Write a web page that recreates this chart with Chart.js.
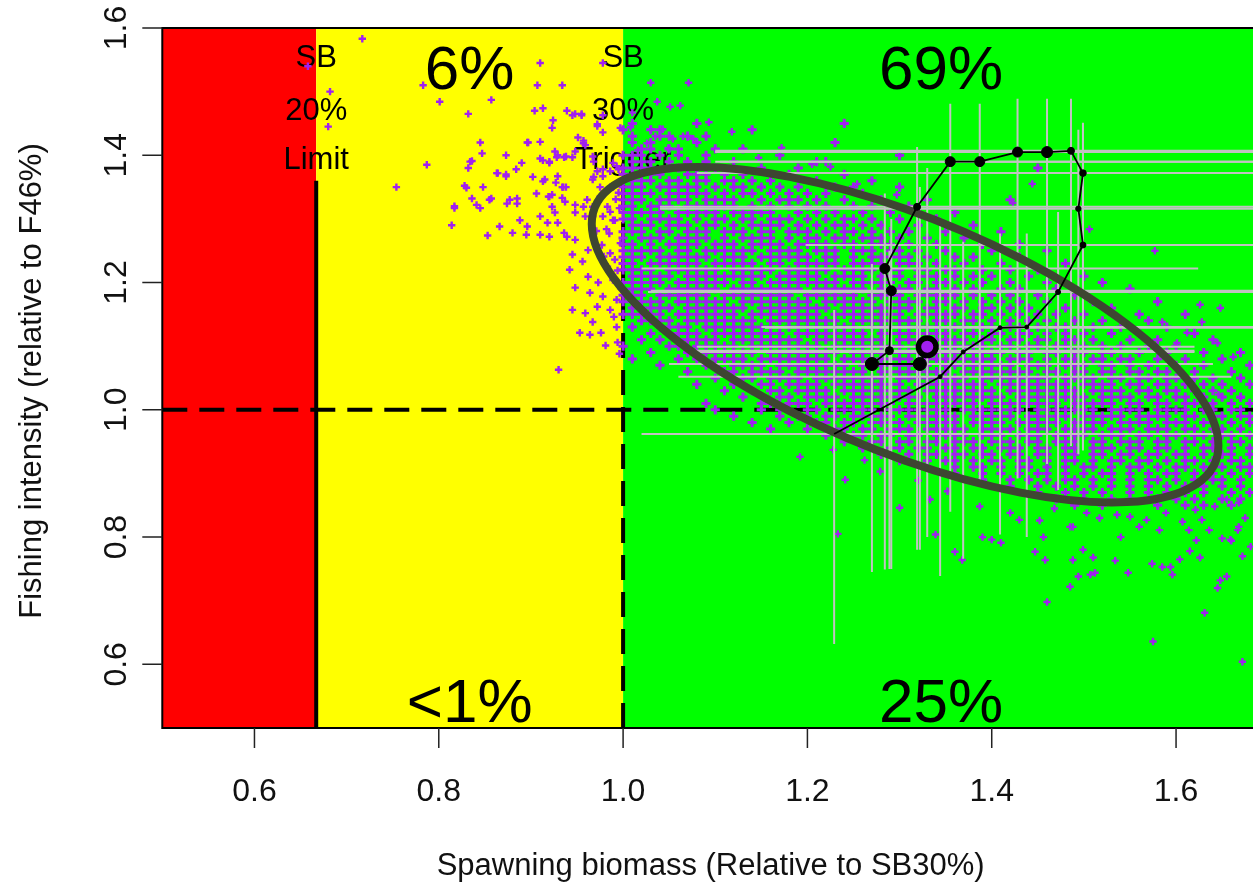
<!DOCTYPE html>
<html>
<head>
<meta charset="utf-8">
<script src="https://cdn.jsdelivr.net/npm/chart.js@4.4.1/dist/chart.umd.min.js"></script>
<style>
  html, body { margin: 0; padding: 0; background: #fff; overflow: hidden; width: 1253px; height: 886px; }
  canvas { display: block; }
</style>
</head>
<body>
<canvas id="kobe" width="1259" height="886"></canvas>
<script>
// ---- axes ----
const xTicks = [0.6, 0.8, 1.0, 1.2, 1.4, 1.6];
const xTickLabels = ['0.6', '0.8', '1.0', '1.2', '1.4', '1.6'];
const yTicks = [0.6, 0.8, 1.0, 1.2, 1.4, 1.6];
const yTickLabels = ['0.6', '0.8', '1.0', '1.2', '1.4', '1.6'];
const xTitle = 'Spawning biomass (Relative to SB30%)';
const yTitle = 'Fishing intensity (relative to F46%)';

// ---- stock-status zones (SB/SB30%) ----
const zoneBreaks = [0.5, 0.667, 1.0, 1.69];
const zoneColours = ['#ff0000', '#ffff00', '#00ff00'];
const refLimit = 0.667;     // SB20% expressed relative to SB30%
const refTrigger = 1.0;     // SB30%
const refF = 1.0;           // F46%
const refTop = 1.36;        // vertical reference lines stop here
const limitLabel = ['SB', '20%', 'Limit'];
const triggerLabel = ['SB', '30%', 'Trigger'];
// probability of ending in each quadrant: [yellow-top, green-top, yellow-bottom, green-bottom]
const quadrantPct = ['6%', '69%', '<1%', '25%'];

// ---- stock trajectory (time ordered) ----
const trajSB = [1.229, 1.344, 1.369, 1.409, 1.438, 1.472, 1.499, 1.494, 1.499, 1.486, 1.460, 1.428, 1.387, 1.355, 1.319, 1.284, 1.291, 1.289, 1.270, 1.322, 1.330];
const trajF  = [0.962, 1.052, 1.091, 1.129, 1.130, 1.185, 1.259, 1.316, 1.372, 1.407, 1.405, 1.405, 1.390, 1.390, 1.319, 1.222, 1.187, 1.093, 1.072, 1.072, 1.099];
// uncertainty ranges of each trajectory point
const barSBLo = [1.02, 1.06, 1.07, 1.154, 1.15, 1.027, 1.198, 1.04, 1.08, 1.10, 1.10, 1.10, 1.105, 1.10, 1.04, 1.02, 1.03, 1.07, 1.05, 1.05, 1.08];
const barSBHi = [1.75, 1.66, 1.62, 1.75, 1.72, 1.75, 1.75, 1.75, 1.75, 1.75, 1.75, 1.75, 1.75, 1.75, 1.75, 1.624, 1.69, 1.62, 1.637, 1.64, 1.62];
const barFLo  = [0.632, 0.739, 0.766, 0.804, 0.800, 0.874, 0.936, 0.93, 0.94, 0.943, 0.915, 0.892, 0.882, 0.84, 0.78, 0.749, 0.75, 0.75, 0.745, 0.78, 0.80];
const barFHi  = [1.157, 1.30, 1.264, 1.277, 1.277, 1.311, 1.451, 1.44, 1.45, 1.489, 1.489, 1.489, 1.481, 1.481, 1.413, 1.34, 1.30, 1.25, 1.229, 1.35, 1.38];
// marker size of each trajectory point
const trajRadius = [0, 2, 2, 2, 2, 2.5, 3, 2.7, 3.3, 3.5, 5.5, 5, 5, 5, 3.5, 5, 5, 4, 6.5, 6.5, 8.8];

// ---- confidence ellipse of the terminal state (centre, two conjugate semi-axes) ----
const ellipseCentre = [1.306, 1.118];
const ellipseAxisA = [0.340, -0.174];
const ellipseAxisB = [0.0, 0.198];

// ---- projected states, scattered part: [SB/SB30% x1000, F/F46% x1000] ----
const cloudSparse = [
  [717,1583],[658,1540],[682,1500],[680,1445],[783,1510],[801,1484],[832,1465],[857,1487],[845,1420],[910,1545],
  [907,1510],[934,1510],[904,1470],[913,1474],[924,1455],[923,1443],[939,1470],[948,1465],[955,1465],[972,1446],
  [978,1545],[978,1463],[997,1443],[897,1420],[910,1421],[873,1400],[890,1388],[834,1390],[787,1385],[754,1350],
  [873,1370],[863,1372],[913,1392],[920,1388],[928,1397],[936,1397],[945,1397],[957,1423],[959,1416],[968,1390],
  [978,1378],[989,1388],[995,1378],[902,1366],[915,1362],[927,1357],[934,1350],[968,1366],[975,1350],[983,1346],
  [989,1350],[830,1349],[848,1350],[855,1330],[877,1330],[885,1324],[906,1340],[923,1338],[934,1333],[817,1320],
  [841,1322],[847,1403],[836,1391],[832,1380],[828,1352],[817,1317],[814,1290],[836,1332],[857,1332],[845,1317],
  [853,1274],[864,1372],[873,1367],[884,1378],[874,1324],[885,1332],[896,1288],[910,1304],[920,1335],[913,1359],
  [929,1367],[938,1350],[910,1395],[920,1390],[929,1400],[938,1398],[926,1406],[896,1420],[919,1335],[923,1319],
  [926,1310],[918,1294],[929,1294],[936,1278],[910,1275],[920,1272],[895,1275],[948,1310],[957,1319],[961,1330],
  [959,1304],[967,1319],[978,1304],[983,1319],[989,1298],[967,1362],[972,1375],[978,1367],[986,1375],[993,1383],
  [986,1350],[995,1341],[975,1335],[951,1428],[957,1419],[945,1463],[955,1463],[972,1449],[978,1436],[948,1406],
  [967,1398],[866,1288],[880,1278],[888,1298],[935,1350],[937,1327],[948,1322],[967,1304],[986,1311],[991,1298],
  [939,1272],[948,1267],[945,1244],[962,1251],[977,1259],[986,1246],[991,1236],[983,1225],[942,1220],[962,1209],
  [973,1200],[989,1204],[948,1192],[964,1184],[978,1178],[993,1173],[972,1162],[959,1152],[986,1157],[945,1157],
  [967,1138],[993,1130],[953,1121],[964,1118],[930,1063],[981,1101],[996,1088],[956,1233],[971,1281],[997,1262],
  [982,1284],[994,1219],[979,1241],[998,1190],[990,1146],[976,1121],[994,1106],[985,1277],[996,1317],[992,1331],
  [1030,1514],[1071,1514],[1037,1484],[1051,1476],[1062,1478],[1008,1444],[1030,1441],[1043,1441],[1035,1430],[1054,1426],
  [1065,1430],[1076,1426],[1016,1408],[1026,1419],[1049,1411],[1010,1467],[1093,1452],[1118,1437],[1230,1420],[1205,1386],
  [1225,1382],[1254,1355],[1297,1338],[1300,1400],[1444,1355],[1423,1325],[1506,1284],[1577,1250],[1626,1165],[1648,1160],
  [1628,1138],[1585,1138],[1601,1105],[1645,1105],[1646,1024],[1670,1019],[1172,1412],[1147,1396],[1612,1121],[1662,1083],
  [1192,926],[1233,805],[1241,890],[1279,903],[1300,846],[1333,859],[1339,804],[1360,777],[1368,764],[1387,848],
  [1390,800],[1400,796],[1410,791],[1420,838],[1430,827],[1447,777],[1456,800],[1458,764],[1460,698],[1485,722],
  [1488,764],[1494,738],[1499,780],[1512,744],[1488,816],[1507,741],[1510,768],[1534,763],[1548,744],[1574,758],
  [1585,753],[1594,753],[1596,741],[1604,765],[1615,778],[1626,768],[1645,720],[1648,732],[1655,738],[1631,681],
  [1575,636],[1672,604],[1672,770],[1681,785],[1659,796],[1667,811],[1485,816],[1503,838],[1517,830],[1536,835],
  [1550,832],[1560,816],[1568,827],[1582,811],[1589,838],[1607,824],[1614,811],[1628,827],[1636,811],[1650,798],
  [1660,794],[1668,816],[1675,830],[1655,859],[1668,854],[1642,848],[1621,843],[1468,845],[1452,826],[1540,800],
  [1622,795],[1320,889],[1352,872],[1262,921],[1228,937]
];

// ---- projected states, dense core: rows of [F/F46% x100, [SB/SB30% x100, ...]] ----
const coreUpper = [
  [145, [101, 108, 124]], [144, [100, 103, 104, 114]], [143, [101, 104, 105, 107, 109]],
  [142, [101, 103, 108, 123]], [141, [102, 103, 105, 106, 110, 113]],
  [140, [100, 101, 102, 104, 106, 109, 117, 130]],
  [139, [101, 102, 103, 105, 107, 109, 112, 121, 122]],
  [138, [100, 101, 102, 103, 105, 106, 108, 110, 112, 115, 119, 145]],
  [137, [100, 101, 102, 103, 104, 107, 108, 109, 111, 113, 118, 124]],
  [136, [100, 101, 102, 103, 105, 106, 108, 109, 111, 112, 114, 116, 121, 127]],
  [135, [100, 101, 102, 104, 105, 106, 107, 108, 110, 112, 113, 115, 117, 119, 123, 125, 130]],
  [134, [100, 101, 102, 103, 105, 106, 107, 108, 109, 111, 113, 114, 116, 118, 120, 122, 126]],
  [133, [100, 101, 102, 104, 105, 106, 107, 109, 110, 111, 112, 115, 117, 118, 119, 121, 124, 128, 133, 142]],
  [132, [100, 101, 103, 104, 105, 107, 108, 109, 110, 111, 112, 114, 116, 118, 120, 122, 125, 127, 131]],
  [131, [100, 101, 102, 103, 104, 106, 107, 108, 109, 110, 112, 113, 114, 115, 116, 119, 121, 123, 126, 129, 136]]
];
const coreMiddle = [
  [130, [100, 101, 103, 104, 105, 106, 108, 110, 111, 113, 114, 116, 117, 118, 120, 122, 124, 125, 127, 130, 134]],
  [129, [101, 102, 103, 105, 106, 107, 109, 110, 112, 114, 115, 116, 117, 119, 121, 123, 124, 126, 128, 132, 138]],
  [128, [100, 101, 102, 104, 105, 107, 108, 109, 111, 112, 113, 115, 116, 118, 119, 120, 122, 124, 125, 127, 129, 131, 135, 141]],
  [127, [100, 102, 103, 104, 106, 107, 108, 109, 111, 113, 114, 115, 116, 118, 120, 121, 123, 124, 126, 127, 128, 130, 133, 137]],
  [126, [100, 101, 103, 105, 106, 107, 108, 110, 111, 112, 114, 115, 116, 117, 119, 120, 121, 122, 124, 125, 127, 128, 129, 131, 134, 139, 143]],
  [125, [100, 101, 102, 103, 104, 106, 107, 109, 110, 111, 112, 113, 114, 116, 117, 118, 119, 121, 122, 123, 125, 126, 127, 129, 130, 132, 135, 140, 146]],
  [124, [100, 101, 102, 104, 105, 106, 107, 108, 109, 111, 112, 113, 115, 116, 117, 118, 119, 120, 122, 123, 125, 127, 128, 129, 130, 131, 133, 136, 138, 143]],
  [123, [100, 101, 103, 104, 105, 106, 107, 108, 110, 111, 112, 113, 114, 116, 117, 119, 120, 121, 122, 123, 125, 126, 127, 128, 130, 131, 132, 134, 137, 141, 148]],
  [122, [100, 101, 102, 103, 105, 106, 107, 108, 109, 110, 112, 113, 114, 115, 116, 118, 119, 120, 121, 122, 124, 125, 126, 127, 129, 130, 132, 133, 135, 136, 139, 142, 145]],
  [121, [101, 102, 103, 104, 105, 107, 108, 109, 110, 111, 112, 113, 114, 115, 117, 118, 119, 120, 121, 123, 124, 125, 126, 128, 129, 130, 132, 133, 134, 136, 138, 140, 144, 150]],
  [120, [100, 101, 102, 103, 104, 106, 107, 108, 109, 110, 111, 113, 114, 116, 117, 118, 119, 120, 121, 122, 123, 125, 126, 127, 128, 129, 131, 132, 134, 135, 137, 139, 142, 146, 152]],
  [119, [100, 101, 102, 103, 105, 106, 107, 108, 109, 110, 112, 113, 114, 115, 116, 117, 118, 119, 121, 122, 123, 124, 125, 126, 128, 129, 130, 131, 133, 134, 136, 138, 141, 143, 147, 155]],
  [118, [100, 101, 102, 104, 105, 106, 107, 108, 109, 111, 112, 113, 114, 115, 116, 117, 118, 120, 121, 122, 123, 124, 125, 127, 128, 129, 130, 132, 133, 134, 135, 136, 138, 140, 142, 145, 149]],
  [117, [100, 101, 102, 103, 104, 106, 107, 108, 109, 110, 111, 113, 114, 115, 116, 117, 118, 119, 120, 122, 123, 124, 125, 126, 127, 129, 130, 131, 132, 134, 135, 137, 139, 141, 143, 146, 151, 158]],
  [116, [101, 102, 103, 104, 105, 107, 108, 109, 110, 111, 112, 113, 115, 116, 117, 118, 119, 120, 121, 122, 124, 125, 126, 127, 128, 129, 130, 131, 133, 134, 136, 137, 139, 140, 142, 144, 148, 153]],
  [115, [100, 101, 102, 103, 104, 106, 107, 108, 109, 110, 111, 112, 114, 115, 116, 117, 118, 119, 120, 121, 123, 124, 125, 126, 127, 128, 129, 130, 132, 133, 134, 135, 136, 138, 139, 141, 143, 145, 147, 150, 156, 161]],
  [114, [102, 103, 104, 105, 107, 108, 109, 110, 111, 112, 113, 114, 116, 117, 118, 119, 120, 121, 122, 123, 125, 126, 127, 128, 129, 130, 131, 132, 134, 135, 137, 138, 140, 142, 144, 146, 149, 152, 157]],
  [113, [101, 104, 105, 106, 107, 109, 110, 111, 112, 113, 114, 115, 116, 118, 119, 120, 121, 122, 123, 124, 125, 127, 128, 129, 130, 131, 132, 133, 134, 136, 137, 139, 140, 142, 143, 145, 147, 148, 151, 154, 159]],
  [112, [103, 105, 106, 107, 108, 110, 111, 112, 113, 114, 115, 116, 117, 119, 120, 121, 122, 123, 124, 125, 126, 128, 129, 130, 131, 132, 133, 134, 135, 137, 138, 140, 141, 143, 144, 146, 148, 150, 153, 156, 162]],
  [111, [102, 104, 106, 107, 108, 109, 110, 112, 113, 114, 115, 116, 117, 118, 119, 121, 122, 123, 124, 125, 126, 127, 128, 130, 131, 132, 133, 134, 135, 136, 137, 139, 140, 142, 143, 145, 146, 148, 149, 151, 155, 158, 164]],
  [110, [100, 105, 106, 108, 109, 110, 111, 112, 114, 115, 116, 117, 118, 119, 120, 121, 123, 124, 125, 126, 127, 128, 129, 130, 132, 133, 134, 135, 136, 137, 138, 139, 141, 142, 144, 145, 147, 148, 150, 152, 154, 157, 160]],
  [109, [103, 107, 109, 110, 111, 112, 113, 114, 116, 117, 118, 119, 120, 121, 122, 123, 125, 126, 127, 128, 129, 130, 131, 132, 134, 135, 136, 137, 138, 139, 140, 141, 143, 144, 146, 147, 149, 150, 152, 153, 156, 159, 163, 167]],
  [108, [101, 106, 108, 110, 111, 112, 113, 115, 116, 117, 118, 119, 120, 121, 122, 124, 125, 126, 127, 128, 129, 130, 131, 133, 134, 135, 136, 137, 138, 139, 140, 142, 143, 144, 146, 148, 149, 151, 152, 154, 155, 158, 161, 165]],
  [107, [104, 109, 110, 112, 113, 114, 115, 117, 118, 119, 120, 121, 122, 123, 124, 126, 127, 128, 129, 130, 131, 132, 133, 135, 136, 137, 138, 139, 140, 141, 142, 144, 145, 146, 148, 149, 150, 152, 153, 155, 157, 160, 163, 168]],
  [106, [107, 111, 112, 114, 115, 116, 117, 119, 120, 121, 122, 123, 124, 125, 126, 128, 129, 130, 131, 132, 133, 134, 135, 137, 138, 139, 140, 141, 142, 143, 144, 146, 147, 149, 150, 152, 153, 155, 156, 158, 159, 162, 166]],
  [105, [110, 113, 114, 116, 117, 118, 119, 121, 122, 123, 124, 125, 126, 127, 128, 130, 131, 132, 133, 134, 135, 136, 137, 139, 140, 141, 142, 143, 144, 145, 146, 148, 149, 150, 151, 153, 154, 156, 157, 159, 160, 162, 164, 167]],
  [104, [108, 112, 115, 116, 118, 119, 120, 121, 123, 124, 125, 126, 127, 128, 129, 130, 132, 133, 134, 135, 136, 137, 138, 139, 141, 142, 143, 144, 145, 146, 147, 148, 150, 151, 152, 153, 155, 156, 158, 159, 161, 163, 165, 168]],
  [103, [111, 114, 116, 117, 119, 120, 121, 122, 124, 125, 126, 127, 128, 129, 130, 131, 133, 134, 135, 136, 137, 138, 139, 140, 142, 143, 144, 145, 146, 147, 148, 149, 151, 152, 153, 154, 156, 157, 159, 160, 162, 164, 166, 169]],
  [102, [113, 117, 118, 120, 121, 122, 123, 125, 126, 127, 128, 129, 130, 131, 132, 134, 135, 136, 137, 138, 139, 140, 141, 143, 144, 145, 146, 147, 148, 149, 150, 152, 153, 154, 155, 157, 158, 160, 161, 163, 165, 167]],
  [101, [109, 115, 116, 118, 119, 120, 122, 123, 124, 125, 126, 127, 128, 129, 131, 132, 133, 134, 135, 136, 137, 138, 140, 141, 142, 143, 144, 145, 146, 147, 149, 150, 151, 152, 153, 155, 156, 158, 159, 161, 162, 164, 166, 168]]
];
const coreLower = [
  [100, [110, 115, 117, 118, 120, 121, 123, 124, 125, 126, 127, 129, 130, 131, 132, 133, 134, 135, 137, 138, 139, 140, 141, 142, 143, 145, 146, 147, 148, 149, 150, 151, 153, 154, 155, 156, 158, 159, 160, 161, 163, 164, 166, 167, 169]],
  [99, [112, 117, 119, 120, 122, 123, 125, 126, 127, 128, 129, 131, 132, 133, 134, 135, 136, 138, 139, 140, 141, 142, 144, 145, 146, 147, 148, 150, 151, 152, 153, 154, 156, 157, 158, 159, 161, 162, 164, 165, 167, 168]],
  [98, [114, 118, 121, 122, 124, 125, 127, 128, 129, 130, 132, 133, 134, 135, 136, 138, 139, 140, 141, 143, 144, 145, 146, 147, 149, 150, 151, 152, 154, 155, 156, 157, 159, 160, 161, 163, 164, 166, 168, 169]],
  [97, [116, 120, 123, 124, 126, 127, 129, 130, 131, 133, 134, 135, 136, 137, 139, 140, 141, 142, 144, 145, 146, 148, 149, 150, 151, 153, 154, 155, 157, 158, 159, 161, 162, 164, 165, 167, 169]],
  [96, [122, 125, 126, 128, 129, 131, 132, 134, 135, 136, 137, 139, 140, 141, 143, 144, 145, 147, 148, 149, 150, 152, 153, 154, 156, 157, 159, 160, 162, 163, 165, 166, 168]],
  [95, [124, 127, 128, 130, 131, 133, 134, 136, 137, 138, 140, 141, 142, 144, 145, 147, 148, 149, 151, 152, 154, 155, 156, 158, 159, 161, 162, 164, 166, 167, 169]],
  [94, [126, 129, 130, 132, 133, 135, 136, 138, 139, 141, 142, 143, 145, 146, 148, 149, 151, 152, 153, 155, 156, 158, 159, 161, 163, 164, 166, 168]],
  [93, [128, 131, 133, 134, 136, 137, 139, 140, 142, 143, 145, 146, 148, 149, 151, 152, 154, 155, 157, 158, 160, 161, 163, 165, 166, 168]],
  [92, [130, 133, 135, 136, 138, 140, 141, 143, 144, 146, 148, 149, 151, 153, 154, 156, 157, 159, 161, 162, 164, 166, 167, 169]],
  [91, [133, 136, 138, 139, 141, 143, 144, 146, 148, 150, 151, 153, 155, 156, 158, 160, 161, 163, 165, 167, 168]],
  [90, [136, 139, 141, 143, 145, 146, 148, 150, 152, 153, 155, 157, 159, 160, 162, 164, 166, 168]],
  [89, [139, 142, 144, 146, 148, 149, 151, 153, 155, 157, 158, 160, 162, 164, 165, 167, 169]],
  [88, [142, 145, 147, 149, 151, 153, 155, 157, 159, 161, 163, 165, 167, 169]],
  [87, [145, 148, 150, 152, 155, 157, 159, 161, 163, 166, 168]],
  [86, [147, 150, 153, 155, 158, 160, 162, 165, 167, 169]],
  [85, [149, 152, 158, 161, 163, 166]]
];

// ---------------------------------------------------------------------------
const FONT = '"Liberation Sans", Arial, Helvetica, sans-serif';
const PURPLE = '#a020f0';
const BAR_GREY = '#c2c2c2';

const rowsToPoints = rows => rows.flatMap(([f, sbs]) => sbs.map(s => ({ x: s / 100, y: f / 100 })));
const sparsePoints = cloudSparse.map(([s, f]) => ({ x: s / 1000, y: f / 1000 }));
const corePoints = [coreUpper, coreMiddle, coreLower].flatMap(rowsToPoints);
const trajPoints = trajSB.map((s, i) => ({ x: s, y: trajF[i] }));
const lastIdx = trajPoints.length - 1;

const barSets = [];
trajSB.forEach((s, i) => {
  barSets.push([{ x: s, y: barFLo[i] }, { x: s, y: barFHi[i] }]);
  barSets.push([{ x: barSBLo[i], y: trajF[i] }, { x: barSBHi[i], y: trajF[i] }]);
});

const crossStyle = (r, w) => ({
  showLine: false, pointStyle: 'cross', pointRadius: r, pointBorderWidth: w,
  pointBorderColor: PURPLE, borderColor: PURPLE, pointBackgroundColor: PURPLE
});

const datasets = [
  {
    label: 'trajectory', data: trajPoints, showLine: true, order: 0,
    borderColor: '#000', borderWidth: 1.8,
    pointRadius: trajRadius,
    pointBackgroundColor: ctx => ctx.dataIndex === lastIdx ? PURPLE : '#000',
    pointBorderColor: '#000',
    pointBorderWidth: ctx => ctx.dataIndex === lastIdx ? 5.5 : 1
  },
  { label: 'projections', data: sparsePoints, order: 3, ...crossStyle(3.7, 2.4) },
  { label: 'projections (core)', data: corePoints, order: 4, ...crossStyle(4.6, 3.0) },
  ...barSets.map(d => ({
    label: 'range', data: d, showLine: true, order: 2,
    borderColor: BAR_GREY, borderWidth: 2, pointRadius: 0
  }))
];

const kobePlugin = {
  id: 'kobe',
  beforeDatasetsDraw(chart) {
    const { ctx, chartArea: a, scales: { x, y } } = chart;
    ctx.save();
    // coloured zones
    for (let i = 0; i < zoneColours.length; i++) {
      const x0 = x.getPixelForValue(zoneBreaks[i]);
      const x1 = x.getPixelForValue(zoneBreaks[i + 1]);
      ctx.fillStyle = zoneColours[i];
      ctx.fillRect(x0, a.top, x1 - x0, a.bottom - a.top);
    }
    // reference lines
    ctx.strokeStyle = '#000';
    ctx.lineWidth = 4;
    ctx.lineCap = 'butt';
    const yBot = y.getPixelForValue(0.5), yTop = y.getPixelForValue(refTop);
    ctx.setLineDash([]);
    ctx.beginPath();
    ctx.moveTo(x.getPixelForValue(refLimit), yBot);
    ctx.lineTo(x.getPixelForValue(refLimit), yTop);
    ctx.stroke();
    ctx.setLineDash([25, 12]);
    ctx.beginPath();
    ctx.moveTo(x.getPixelForValue(refTrigger), yBot);
    ctx.lineTo(x.getPixelForValue(refTrigger), yTop);
    ctx.stroke();
    ctx.beginPath();
    ctx.moveTo(a.left, y.getPixelForValue(refF));
    ctx.lineTo(a.right, y.getPixelForValue(refF));
    ctx.stroke();
    ctx.setLineDash([]);

    // reference point labels
    ctx.fillStyle = '#000';
    ctx.textAlign = 'center';
    ctx.textBaseline = 'alphabetic';
    ctx.font = '31px ' + FONT;
    const lineBase = [a.top + 39, a.top + 92, a.top + 141];
    limitLabel.forEach((t, i) => ctx.fillText(t, x.getPixelForValue(refLimit), lineBase[i]));
    triggerLabel.forEach((t, i) => ctx.fillText(t, x.getPixelForValue(refTrigger), lineBase[i]));

    // quadrant probabilities
    ctx.font = '62px ' + FONT;
    const midYellow = x.getPixelForValue((zoneBreaks[1] + zoneBreaks[2]) / 2);
    const midGreen = x.getPixelForValue((zoneBreaks[2] + zoneBreaks[3]) / 2);
    const topBase = a.top + 61, botBase = a.bottom - 6;
    ctx.fillText(quadrantPct[0], midYellow, topBase);
    ctx.fillText(quadrantPct[1], midGreen, topBase);
    ctx.fillText(quadrantPct[2], midYellow, botBase);
    ctx.fillText(quadrantPct[3], midGreen, botBase);
    ctx.restore();
  },
  beforeDatasetDraw(chart, args) {
    if (args.index !== 0) return;
    // confidence ellipse, drawn just beneath the trajectory
    const { ctx, scales: { x, y } } = chart;
    const cx = x.getPixelForValue(ellipseCentre[0]);
    const cy = y.getPixelForValue(ellipseCentre[1]);
    const ax = x.getPixelForValue(ellipseCentre[0] + ellipseAxisA[0]) - cx;
    const ay = y.getPixelForValue(ellipseCentre[1] + ellipseAxisA[1]) - cy;
    const bx = x.getPixelForValue(ellipseCentre[0] + ellipseAxisB[0]) - cx;
    const by = y.getPixelForValue(ellipseCentre[1] + ellipseAxisB[1]) - cy;
    ctx.save();
    ctx.save();
    ctx.transform(ax, ay, bx, by, cx, cy);
    ctx.beginPath();
    ctx.arc(0, 0, 1, 0, Math.PI * 2);
    ctx.restore();
    ctx.lineWidth = 8;
    ctx.strokeStyle = '#3e4632';
    ctx.stroke();
    ctx.restore();
  },
  afterDraw(chart) {
    const { ctx, chartArea: a, scales: { x, y } } = chart;
    ctx.save();
    // plot box
    ctx.strokeStyle = '#000';
    ctx.lineWidth = 2;
    ctx.strokeRect(a.left, a.top, a.right - a.left, a.bottom - a.top);
    // tick marks
    ctx.lineWidth = 1.5;
    ctx.strokeStyle = '#222';
    ctx.beginPath();
    xTicks.forEach(v => { const p = x.getPixelForValue(v); ctx.moveTo(p, a.bottom); ctx.lineTo(p, a.bottom + 20); });
    yTicks.forEach(v => { const p = y.getPixelForValue(v); ctx.moveTo(a.left - 20, p); ctx.lineTo(a.left, p); });
    ctx.stroke();
    // tick labels
    ctx.fillStyle = '#111';
    ctx.font = '32px ' + FONT;
    ctx.textAlign = 'center';
    ctx.textBaseline = 'alphabetic';
    xTicks.forEach((v, i) => ctx.fillText(xTickLabels[i], x.getPixelForValue(v), a.bottom + 73));
    yTicks.forEach((v, i) => {
      ctx.save();
      ctx.translate(a.left - 36, y.getPixelForValue(v));
      ctx.rotate(-Math.PI / 2);
      ctx.fillText(yTickLabels[i], 0, 0);
      ctx.restore();
    });
    // axis titles
    ctx.font = '31px ' + FONT;
    ctx.fillText(xTitle, (a.left + a.right) / 2, a.bottom + 147);
    ctx.save();
    ctx.translate(a.left - 121, (a.top + a.bottom) / 2 + 3);
    ctx.rotate(-Math.PI / 2);
    ctx.fillText(yTitle, 0, 0);
    ctx.restore();
    ctx.restore();
  }
};

new Chart(document.getElementById('kobe'), {
  type: 'scatter',
  data: { datasets },
  options: {
    responsive: false,
    animation: false,
    devicePixelRatio: 1,
    events: [],
    layout: { autoPadding: false, padding: { left: 162.3, top: 28, right: 0, bottom: 158 } },
    plugins: { legend: { display: false }, tooltip: { enabled: false } },
    elements: { line: { tension: 0 } },
    scales: {
      x: { type: 'linear', min: 0.5, max: 1.69, display: false },
      y: { type: 'linear', min: 0.5, max: 1.6, display: false }
    }
  },
  plugins: [kobePlugin]
});
</script>
</body>
</html>
